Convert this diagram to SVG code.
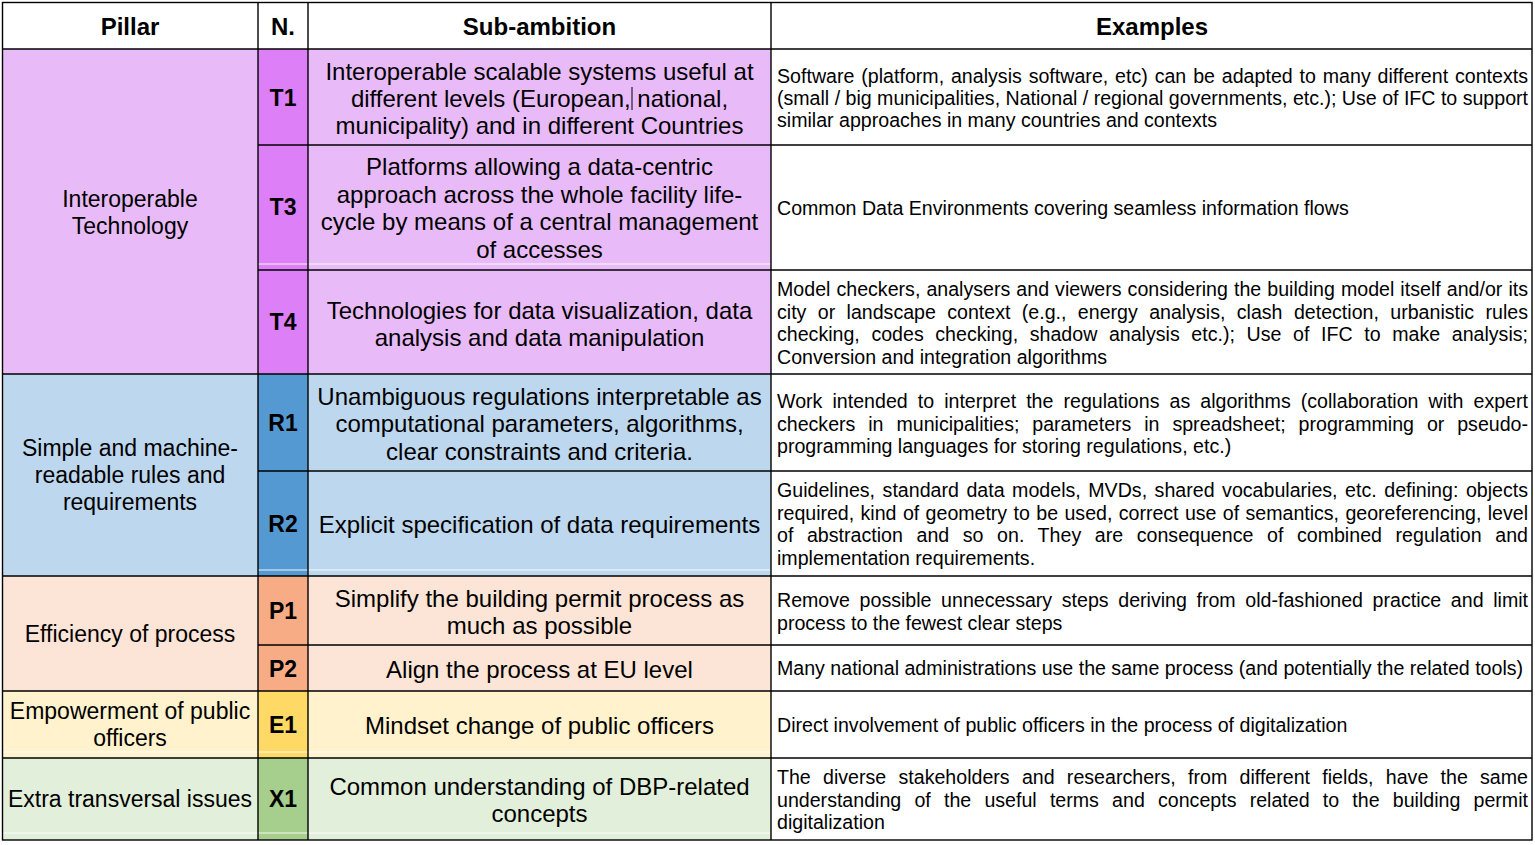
<svg xmlns="http://www.w3.org/2000/svg" width="1535" height="845" viewBox="0 0 1535 845">
<style>
.hd{font-family:"Liberation Sans",Arial,sans-serif;font-weight:bold;font-size:24px;fill:#000;text-anchor:middle}
.pl{font-family:"Liberation Sans",Arial,sans-serif;font-size:23px;fill:#000;text-anchor:middle}
.cd{font-family:"Liberation Sans",Arial,sans-serif;font-weight:bold;font-size:23px;fill:#000;text-anchor:middle}
.sb{font-family:"Liberation Sans",Arial,sans-serif;font-size:24px;fill:#000;text-anchor:middle}
.ex{font-family:"Liberation Sans",Arial,sans-serif;font-size:19.6px;fill:#000}
.grid{stroke:#000;stroke-width:1.4;fill:none}
.art{stroke:#fff;stroke-width:1;opacity:0.9}
</style>
<rect x="0" y="0" width="1535" height="845" fill="#fff"/>
<g id="backgrounds">
<rect x="2.5" y="49" width="768.5" height="325" fill="#E8BBF8"/>
<rect x="258" y="49" width="50" height="325" fill="#DD80F7"/>
<rect x="2.5" y="374" width="768.5" height="202" fill="#BDD7EE"/>
<rect x="258" y="374" width="50" height="202" fill="#5599D2"/>
<rect x="2.5" y="576" width="768.5" height="115" fill="#FCE4D6"/>
<rect x="258" y="576" width="50" height="115" fill="#F8AC86"/>
<rect x="2.5" y="691" width="768.5" height="67" fill="#FFF2CC"/>
<rect x="258" y="691" width="50" height="67" fill="#FFD966"/>
<rect x="2.5" y="758" width="768.5" height="82" fill="#E2EFDA"/>
<rect x="258" y="758" width="50" height="82" fill="#A6CF8D"/>
<line class="art" x1="258" y1="264" x2="771" y2="264"/>
<line class="art" x1="258" y1="570" x2="771" y2="570"/>
<line class="art" x1="2.5" y1="752" x2="771" y2="752"/>
<line class="art" x1="2.5" y1="833" x2="771" y2="833"/>
</g>
<g id="connectors" class="grid">
<rect x="2.5" y="2.5" width="1529.5" height="837.5"/>
<line x1="258" y1="2.5" x2="258" y2="840"/>
<line x1="308" y1="2.5" x2="308" y2="840"/>
<line x1="771" y1="2.5" x2="771" y2="840"/>
<line x1="2.5" y1="49" x2="1532" y2="49"/>
<line x1="258" y1="145" x2="1532" y2="145"/>
<line x1="258" y1="270" x2="1532" y2="270"/>
<line x1="2.5" y1="374" x2="1532" y2="374"/>
<line x1="258" y1="471" x2="1532" y2="471"/>
<line x1="2.5" y1="576" x2="1532" y2="576"/>
<line x1="258" y1="645" x2="1532" y2="645"/>
<line x1="2.5" y1="691" x2="1532" y2="691"/>
<line x1="2.5" y1="758" x2="1532" y2="758"/>
</g>
<g id="header">
<text class="hd" x="130" y="34.5">Pillar</text>
<text class="hd" x="283" y="34.5">N.</text>
<text class="hd" x="539.5" y="34.5">Sub-ambition</text>
<text class="hd" x="1152" y="34.5">Examples</text>
</g>
<g id="pillar-technology">
<text class="pl" x="130" y="207">Interoperable</text>
<text class="pl" x="130" y="234">Technology</text>
</g>
<g id="pillar-rules">
<text class="pl" x="130" y="456">Simple and machine-</text>
<text class="pl" x="130" y="483">readable rules and</text>
<text class="pl" x="130" y="510">requirements</text>
</g>
<g id="pillar-process">
<text class="pl" x="130" y="642">Efficiency of process</text>
</g>
<g id="pillar-empowerment">
<text class="pl" x="130" y="719">Empowerment of public</text>
<text class="pl" x="130" y="746">officers</text>
</g>
<g id="pillar-extra">
<text class="pl" x="130" y="807">Extra transversal issues</text>
</g>
<g id="row-T1">
<text class="cd" x="283" y="106">T1</text>
<text class="sb" x="539.5" y="79.5">Interoperable scalable systems useful at</text>
<text class="sb" x="539.5" y="106.5">different levels (European, national,</text>
<text class="sb" x="539.5" y="134">municipality) and in different Countries</text>
<line x1="632" y1="87" x2="632" y2="110" stroke="#000" stroke-width="1"/>
<text class="ex" x="777" y="82.5" word-spacing="1.4" textLength="751" lengthAdjust="spacing">Software (platform, analysis software, etc) can be adapted to many different contexts</text>
<text class="ex" x="777" y="104.8" textLength="751" lengthAdjust="spacing">(small / big municipalities, National / regional governments, etc.); Use of IFC to support</text>
<text class="ex" x="777" y="127.1">similar approaches in many countries and contexts</text>
</g>
<g id="row-T3">
<text class="cd" x="283" y="215">T3</text>
<text class="sb" x="539.5" y="175">Platforms allowing a data-centric</text>
<text class="sb" x="539.5" y="202.6">approach across the whole facility life-</text>
<text class="sb" x="539.5" y="230.2">cycle by means of a central management</text>
<text class="sb" x="539.5" y="257.8">of accesses</text>
<text class="ex" x="777" y="214.5">Common Data Environments covering seamless information flows</text>
</g>
<g id="row-T4">
<text class="cd" x="283" y="330">T4</text>
<text class="sb" x="539.5" y="318.5">Technologies for data visualization, data</text>
<text class="sb" x="539.5" y="346">analysis and data manipulation</text>
<text class="ex" x="777" y="296" word-spacing="0.6" textLength="751" lengthAdjust="spacing">Model checkers, analysers and viewers considering the building model itself and/or its</text>
<text class="ex" x="777" y="318.6" word-spacing="5.9" textLength="751" lengthAdjust="spacing">city or landscape context (e.g., energy analysis, clash detection, urbanistic rules</text>
<text class="ex" x="777" y="341.2" word-spacing="6.2" textLength="751" lengthAdjust="spacing">checking, codes checking, shadow analysis etc.); Use of IFC to make analysis;</text>
<text class="ex" x="777" y="363.8">Conversion and integration algorithms</text>
</g>
<g id="row-R1">
<text class="cd" x="283" y="431">R1</text>
<text class="sb" x="539.5" y="404.5">Unambiguous regulations interpretable as</text>
<text class="sb" x="539.5" y="432">computational parameters, algorithms,</text>
<text class="sb" x="539.5" y="459.5">clear constraints and criteria.</text>
<text class="ex" x="777" y="408" word-spacing="4.6" textLength="751" lengthAdjust="spacing">Work intended to interpret the regulations as algorithms (collaboration with expert</text>
<text class="ex" x="777" y="430.5" word-spacing="7.5" textLength="751" lengthAdjust="spacing">checkers in municipalities; parameters in spreadsheet; programming or pseudo-</text>
<text class="ex" x="777" y="453">programming languages for storing regulations, etc.)</text>
</g>
<g id="row-R2">
<text class="cd" x="283" y="532">R2</text>
<text class="sb" x="539.5" y="532.5">Explicit specification of data requirements</text>
<text class="ex" x="777" y="497" word-spacing="2.1" textLength="751" lengthAdjust="spacing">Guidelines, standard data models, MVDs, shared vocabularies, etc. defining: objects</text>
<text class="ex" x="777" y="519.5" word-spacing="1.0" textLength="751" lengthAdjust="spacing">required, kind of geometry to be used, correct use of semantics, georeferencing, level</text>
<text class="ex" x="777" y="542" word-spacing="8.15" textLength="751" lengthAdjust="spacing">of abstraction and so on. They are consequence of combined regulation and</text>
<text class="ex" x="777" y="564.5">implementation requirements.</text>
</g>
<g id="row-P1">
<text class="cd" x="283" y="619">P1</text>
<text class="sb" x="539.5" y="606.5">Simplify the building permit process as</text>
<text class="sb" x="539.5" y="634">much as possible</text>
<text class="ex" x="777" y="607" word-spacing="4.2" textLength="751" lengthAdjust="spacing">Remove possible unnecessary steps deriving from old-fashioned practice and limit</text>
<text class="ex" x="777" y="629.5">process to the fewest clear steps</text>
</g>
<g id="row-P2">
<text class="cd" x="283" y="677">P2</text>
<text class="sb" x="539.5" y="677.5">Align the process at EU level</text>
<text class="ex" x="777" y="675">Many national administrations use the same process (and potentially the related tools)</text>
</g>
<g id="row-E1">
<text class="cd" x="283" y="733">E1</text>
<text class="sb" x="539.5" y="733.5">Mindset change of public officers</text>
<text class="ex" x="777" y="731.5">Direct involvement of public officers in the process of digitalization</text>
</g>
<g id="row-X1">
<text class="cd" x="283" y="807">X1</text>
<text class="sb" x="539.5" y="794.5">Common understanding of DBP-related</text>
<text class="sb" x="539.5" y="822">concepts</text>
<text class="ex" x="777" y="784" word-spacing="6.8" textLength="751" lengthAdjust="spacing">The diverse stakeholders and researchers, from different fields, have the same</text>
<text class="ex" x="777" y="806.5" word-spacing="7.75" textLength="751" lengthAdjust="spacing">understanding of the useful terms and concepts related to the building permit</text>
<text class="ex" x="777" y="829">digitalization</text>
</g>
</svg>
